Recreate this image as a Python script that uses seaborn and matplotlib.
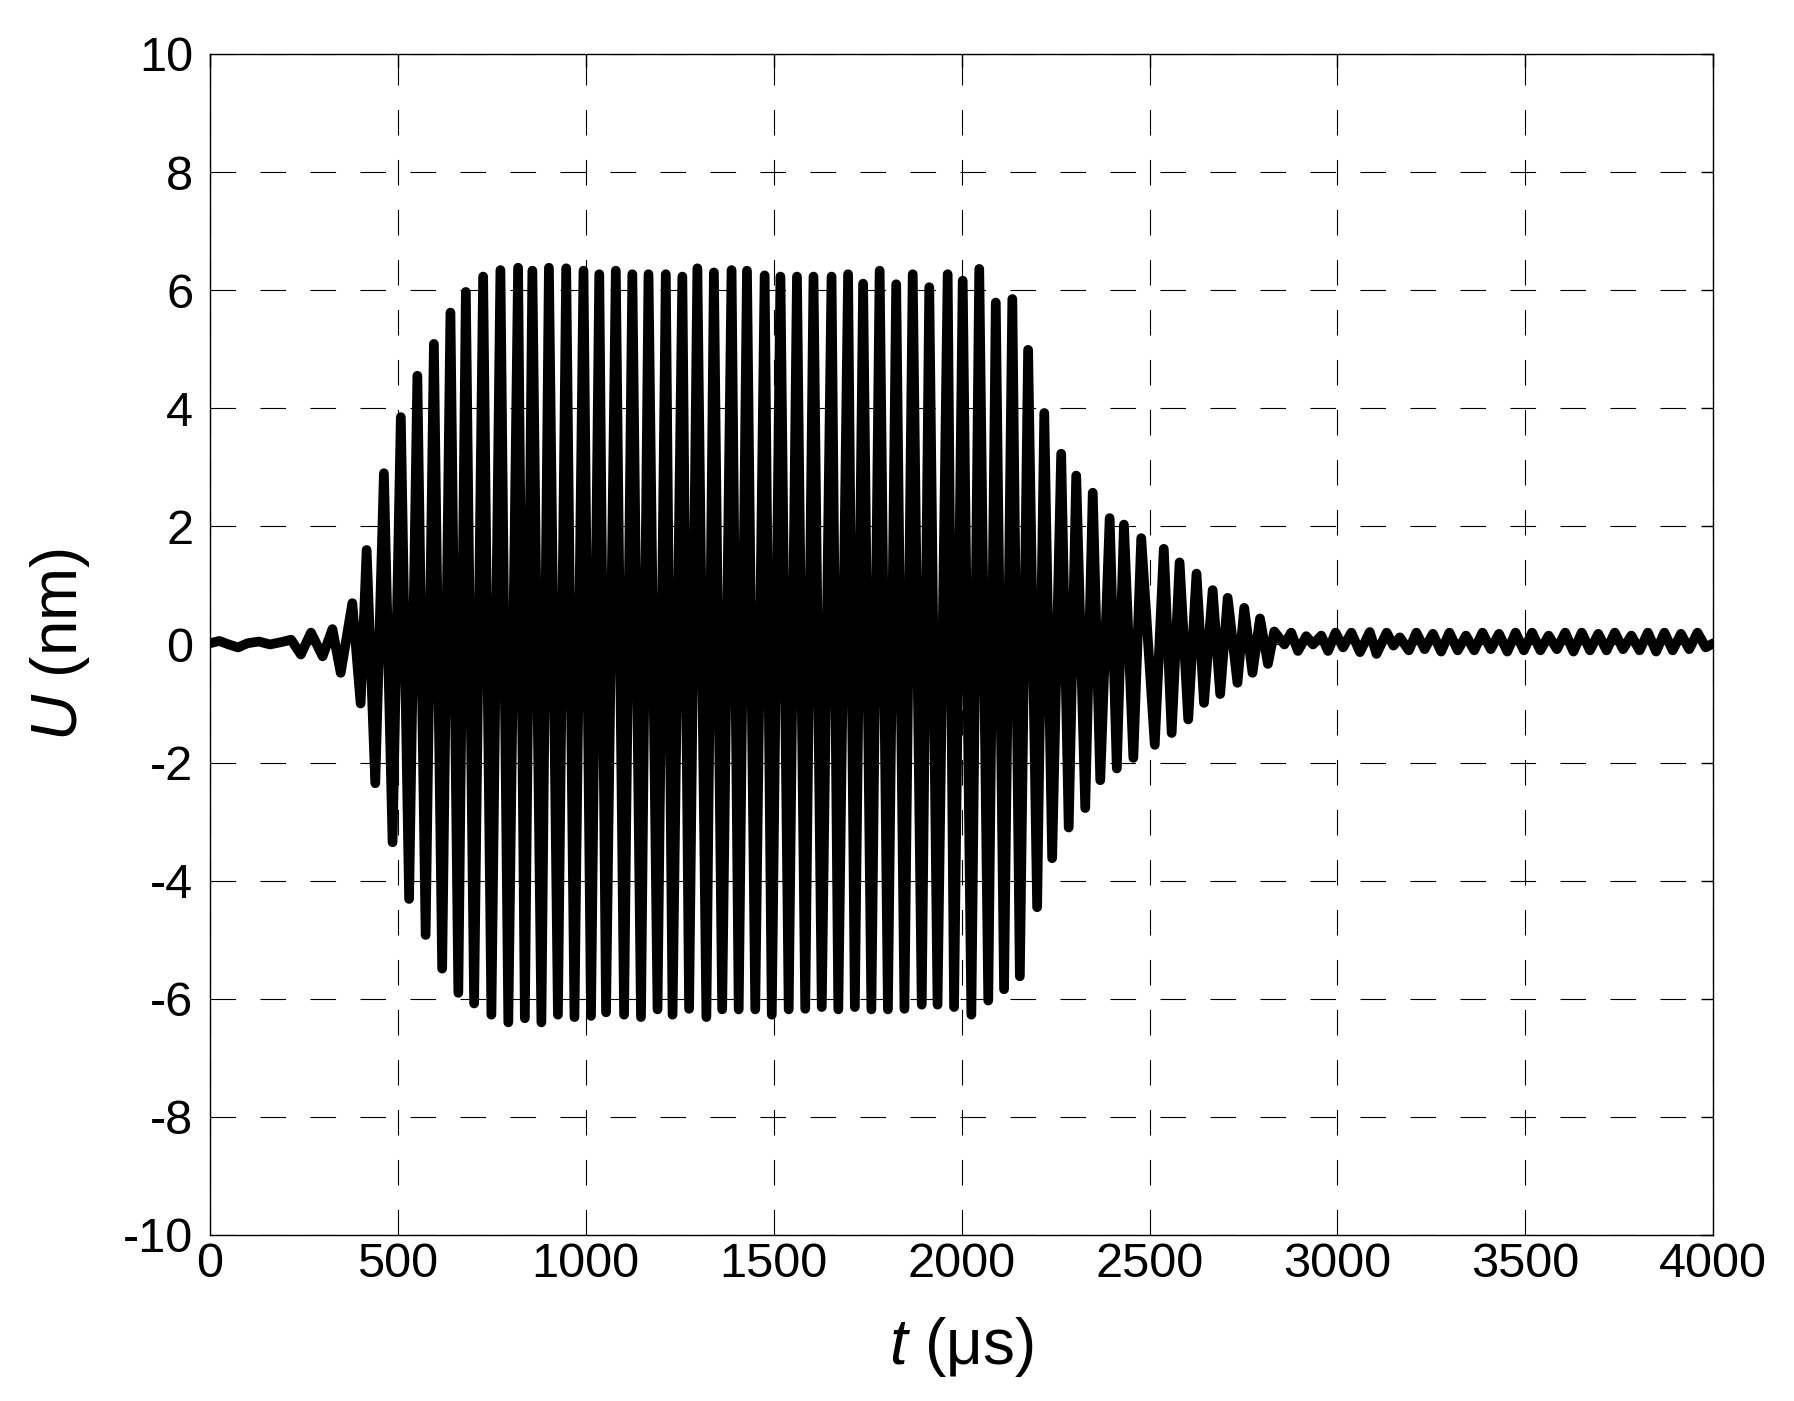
import numpy as np
import pandas as pd
import matplotlib
matplotlib.use("Agg")
import matplotlib.pyplot as plt
import seaborn as sns

# values (turning points of the trace), t in us, U in nm
t_onset = [0, 25, 50, 75, 100, 130, 160, 190, 216, 242, 269, 300, 326, 348,
           379, 401, 417, 440, 463, 486, 508, 530, 552, 574, 596, 618, 640,
           661, 681]
u_onset = [0.02, 0.06, 0.0, -0.05, 0.02, 0.05, 0.0, 0.04, 0.08, -0.17, 0.2,
           -0.2, 0.26, -0.48, 0.7, -1.0, 1.6, -2.35, 2.9, -3.35, 3.85, -4.31,
           4.55, -4.92, 5.09, -5.49, 5.62, -5.9, 5.97]

t_burst = [703, 727, 749, 773, 794, 820, 838, 858, 882, 902, 926, 948, 970,
           994, 1014, 1036, 1054, 1080, 1102, 1124, 1147, 1167, 1191, 1213,
           1231, 1257, 1275, 1297, 1321, 1341, 1363, 1388, 1407, 1429, 1451,
           1476, 1495, 1518, 1540, 1562, 1584, 1606, 1628, 1654, 1672, 1698,
           1716, 1738, 1760, 1782, 1804, 1826, 1848, 1870, 1894, 1914, 1936,
           1963, 1980, 2003, 2026, 2047]
u_burst = [-6.08, 6.23, -6.27, 6.34, -6.40, 6.38, -6.33, 6.33, -6.40, 6.38,
           -6.27, 6.37, -6.31, 6.33, -6.29, 6.27, -6.23, 6.33, -6.27, 6.27,
           -6.31, 6.27, -6.18, 6.27, -6.27, 6.23, -6.17, 6.37, -6.31, 6.30,
           -6.18, 6.34, -6.18, 6.33, -6.18, 6.25, -6.27, 6.23, -6.18, 6.23,
           -6.17, 6.23, -6.14, 6.23, -6.18, 6.27, -6.14, 6.11, -6.18, 6.33,
           -6.18, 6.10, -6.17, 6.27, -6.10, 6.05, -6.10, 6.27, -6.14, 6.16,
           -6.27, 6.36]

t_decay = [2071, 2091, 2113, 2135, 2155, 2177, 2201, 2220, 2241, 2265, 2285,
           2305, 2329, 2349, 2369, 2394, 2413, 2432, 2457, 2478, 2514, 2538,
           2559, 2580, 2603, 2625, 2645, 2668, 2688, 2708, 2734, 2752, 2774,
           2794, 2815, 2832, 2859, 2877, 2895, 2917, 2935, 2957, 2975, 2995,
           3015, 3037, 3060, 3086, 3104, 3131, 3149, 3166]
u_decay = [-6.03, 5.79, -5.84, 5.85, -5.62, 4.99, -4.45, 3.92, -3.62, 3.23,
           -3.10, 2.86, -2.77, 2.57, -2.30, 2.14, -2.10, 2.03, -1.92, 1.80,
           -1.70, 1.62, -1.50, 1.39, -1.27, 1.20, -0.99, 0.92, -0.84, 0.79,
           -0.65, 0.62, -0.48, 0.44, -0.33, 0.22, 0.0, 0.2, -0.11, 0.14, 0.0,
           0.15, -0.11, 0.2, -0.05, 0.2, -0.13, 0.21, -0.16, 0.2, -0.02, 0.12]

t_tail = [3190, 3210, 3232, 3254, 3276, 3298, 3320, 3342, 3364, 3386, 3408,
          3430, 3452, 3474, 3496, 3518, 3540, 3562, 3584, 3606, 3628, 3650,
          3672, 3694, 3716, 3738, 3760, 3782, 3804, 3826, 3848, 3870, 3892,
          3914, 3936, 3958, 3980, 4000]
u_tail = [-0.1, 0.2, -0.08, 0.18, -0.12, 0.2, -0.1, 0.15, -0.1, 0.2, -0.08,
          0.18, -0.12, 0.2, -0.1, 0.2, -0.1, 0.15, -0.08, 0.2, -0.12, 0.2,
          -0.1, 0.18, -0.1, 0.2, -0.08, 0.15, -0.1, 0.2, -0.12, 0.2, -0.1,
          0.18, -0.08, 0.2, -0.05, 0.02]

x_ticks = [0, 500, 1000, 1500, 2000, 2500, 3000, 3500, 4000]
y_ticks = [-10, -8, -6, -4, -2, 0, 2, 4, 6, 8, 10]

df = pd.DataFrame({
    "t": t_onset + t_burst + t_decay + t_tail,
    "U": u_onset + u_burst + u_decay + u_tail,
})

sns.set_theme(style="white")
plt.rcParams["font.family"] = ["Liberation Sans", "DejaVu Sans"]
plt.rcParams["mathtext.fontset"] = "custom"
plt.rcParams["mathtext.rm"] = "Liberation Sans"
plt.rcParams["mathtext.it"] = "Liberation Sans:italic"
plt.rcParams["axes.unicode_minus"] = False

fig = plt.figure(figsize=(17.94, 14.01), dpi=100)
ax = fig.add_axes([0.117, 0.1185, 0.838, 0.843])

sns.lineplot(data=df, x="t", y="U", ax=ax, color="black", linewidth=7,
             sort=False, estimator=None)

ax.set_xlim(0, 4000)
ax.set_ylim(-10, 10)
ax.set_xticks(x_ticks)
ax.set_yticks(y_ticks)
ax.grid(True, color="black", linewidth=0.8, linestyle=(0, (23, 22)))
ax.set_axisbelow(True)
ax.tick_params(direction="in", length=9, width=1, top=True, right=True,
               labelsize=35, colors="black")
ax.tick_params(axis="x", pad=5)
ax.tick_params(axis="y", pad=12)
for s in ax.spines.values():
    s.set_color("black")
    s.set_linewidth(1)

ax.set_xlabel(r"$\mathit{t}$ (μs)", fontsize=46, color="black", labelpad=20)
ax.set_ylabel(r"$\mathit{U}$ (nm)", fontsize=46, color="black", labelpad=22)

fig.savefig("out.png", dpi=100, facecolor="white")
